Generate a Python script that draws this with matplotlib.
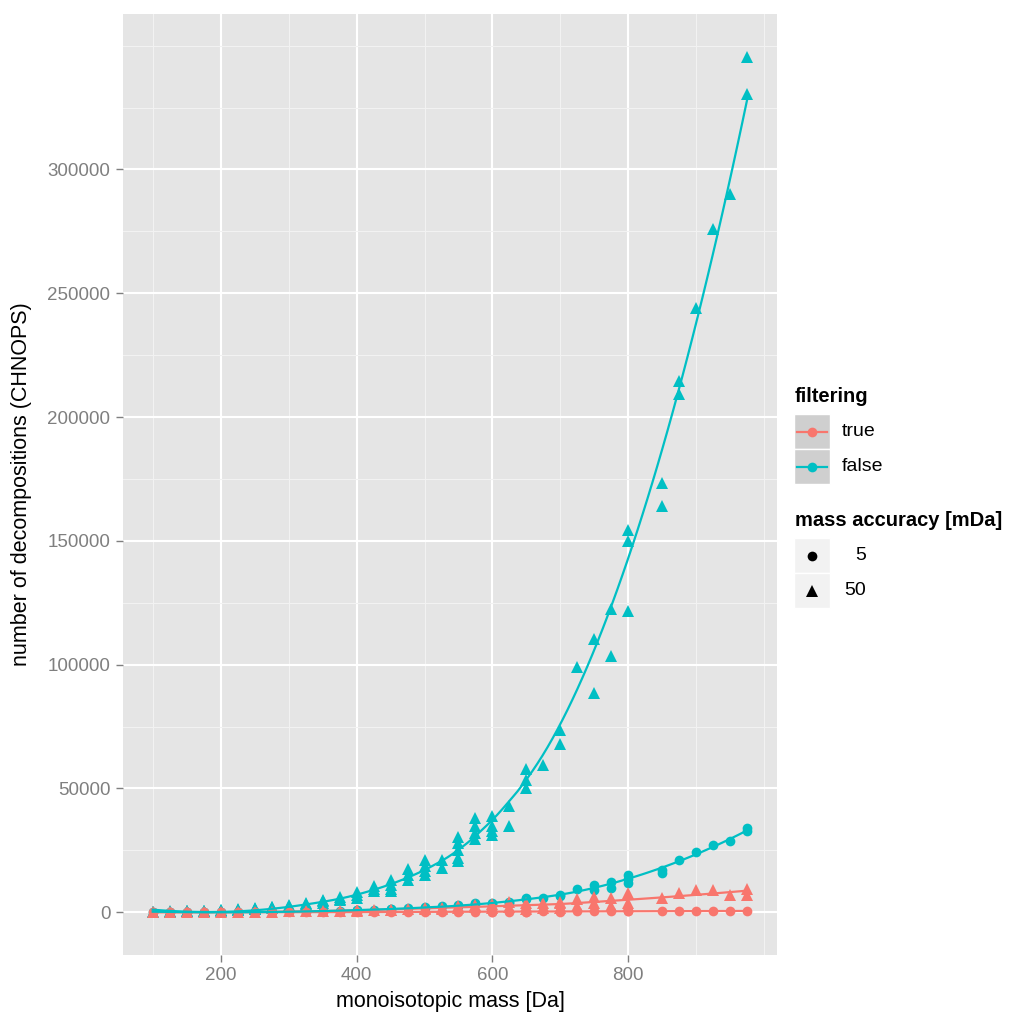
import numpy as np
import matplotlib
matplotlib.use("Agg")
import matplotlib.pyplot as plt
from matplotlib.patches import Rectangle
from matplotlib.lines import Line2D
from matplotlib.ticker import FixedLocator, FuncFormatter

plt.rcParams['font.family'] = ['Liberation Sans', 'DejaVu Sans']

# ---------------- data ----------------
# filtering = false, mass accuracy 50 mDa (cyan triangles)
false50_mass = [100, 100, 100, 125, 125, 125, 150, 150, 150, 175, 175, 175,
                200, 200, 200, 225, 225, 225, 250, 250, 250, 275, 275, 275,
                300, 300, 300, 325, 325, 325, 350, 350, 350, 375, 375, 375,
                400, 400, 400, 425, 425, 425, 450, 450, 450, 450,
                475, 475, 475, 500, 500, 500, 500, 525, 525, 550, 550, 550, 550, 550,
                575, 575, 575, 575, 600, 600, 600, 600, 625, 625, 650, 650, 650, 675,
                700, 700, 725, 750, 750, 775, 775, 800, 800, 800, 850, 850, 875, 875,
                900, 925, 950, 975, 975]
false50_val = [200, 150, 100, 300, 250, 200, 450, 350, 300, 650, 500, 400,
               900, 800, 650, 1300, 1100, 900, 1700, 1500, 1300, 2300, 2000, 1700,
               2900, 2600, 2200, 3800, 3400, 2900, 5000, 4500, 3800, 6300, 5500, 4800,
               8000, 6800, 5600, 10500, 9500, 8500, 13000, 11000, 9500, 8500,
               17500, 15000, 13000, 21000, 18500, 16500, 15000, 21000, 18000,
               30500, 28000, 25000, 22000, 20500,
               38000, 35000, 32000, 29500, 39000, 35000, 33000, 31000, 43000, 35000,
               58000, 53500, 50000, 59500, 73500, 68000, 99000, 110500, 88500,
               122500, 103500, 154500, 150000, 121500, 173500, 164000, 214500, 209500,
               244000, 276000, 290000, 345500, 330500]

# filtering = false, mass accuracy 5 mDa (cyan circles)
false5_mass = [100, 125, 150, 175, 200, 225, 250, 275, 300, 325, 350, 375, 400, 400, 425,
               450, 450, 475, 500, 500, 525, 550, 550, 575, 575, 600, 600, 625, 625,
               650, 650, 675, 700, 700, 725, 750, 750, 775, 775, 800, 800, 800,
               850, 850, 875, 900, 925, 950, 975, 975]
false5_val = [20, 30, 50, 70, 100, 150, 200, 260, 330, 420, 520, 650, 850, 700, 1000,
              1500, 1300, 1800, 2200, 1900, 2400, 3000, 2600, 3600, 3200, 3900, 3500, 4200, 3900,
              5700, 5200, 5700, 7000, 6700, 9400, 11000, 8800, 12300, 9700, 15200, 13600, 11700,
              17000, 16000, 21000, 24300, 27300, 28700, 34200, 32800]

# filtering = true, mass accuracy 50 mDa (red triangles)
true50_mass = [100, 125, 150, 175, 200, 225, 250, 275, 300, 325, 350, 375, 400, 400, 425,
               450, 450, 475, 500, 500, 525, 525, 550, 550, 575, 575, 600, 600, 600,
               625, 625, 650, 650, 650, 675, 675, 700, 700, 700, 725, 725, 750, 750,
               775, 775, 800, 800, 800, 850, 875, 900, 925, 950, 975, 975]
true50_val = [10, 20, 30, 50, 80, 120, 170, 230, 300, 380, 480, 600, 750, 600, 900,
              1100, 900, 1300, 1600, 1300, 1900, 1500, 2400, 1900, 2800, 2200, 3300, 2400, 1800,
              4200, 2000, 3800, 2600, 1200, 3600, 1600, 4200, 3600, 1600, 5400, 2400, 6300, 3600,
              5900, 2400, 7700, 3600, 2600, 5800, 7800, 9000, 9000, 7000, 9200, 6800]

# filtering = true, mass accuracy 5 mDa (red circles)
true5_mass = [100, 125, 150, 175, 200, 225, 250, 275, 300, 325, 350, 375, 400, 425, 450,
              475, 500, 525, 550, 575, 600, 600, 625, 650, 650, 675, 700, 700, 725, 750,
              775, 800, 800, 850, 875, 900, 925, 950, 975]
true5_val = [1, 2, 3, 5, 8, 12, 16, 22, 30, 40, 50, 60, 75, 90, 110,
             130, 150, 170, 190, 210, 240, 200, 260, 290, 250, 300, 320, 280, 330, 350,
             370, 400, 350, 420, 440, 460, 480, 500, 520]

x_major = [200, 400, 600, 800]
x_minor = [100, 300, 500, 700, 900, 1000]
y_major = [0, 50000, 100000, 150000, 200000, 250000, 300000]
y_minor = [25000, 75000, 125000, 175000, 225000, 275000, 325000, 350000]

RED = '#F8766D'
CYAN = '#00BFC4'


def loess(x, y, xg, span=0.75):
    x = np.asarray(x, float)
    y = np.asarray(y, float)
    n = len(x)
    q = int(np.floor(n * span))
    out = []
    for x0 in xg:
        d = np.abs(x - x0)
        h = np.sort(d)[q - 1]
        w = np.clip(1 - (d / h) ** 3, 0, None) ** 3
        X = np.vstack([np.ones(n), x - x0, (x - x0) ** 2]).T
        sw = np.sqrt(w)
        beta = np.linalg.lstsq(X * sw[:, None], y * sw, rcond=None)[0]
        out.append(beta[0])
    return np.array(out)


fig = plt.figure(figsize=(10.1, 10.16), dpi=100)
ax = fig.add_axes([123 / 1010, 1 - 955 / 1016, 654 / 1010, 941 / 1016])
ax.set_facecolor('#E5E5E5')
for s in ax.spines.values():
    s.set_visible(False)

groups = [
    (false50_mass, false50_val, CYAN, '^', 8.8),
    (false5_mass, false5_val, CYAN, 'o', 7),
    (true50_mass, true50_val, RED, '^', 8.8),
    (true5_mass, true5_val, RED, 'o', 7),
]

for m, v, c, mk, ms in groups:
    ax.plot(m, v, linestyle='none', marker=mk, markersize=ms, color=c,
            markeredgewidth=0, zorder=3)

for m, v, c, mk, ms in [groups[3], groups[2], groups[1], groups[0]]:
    xg = np.linspace(min(m), max(m), 120)
    ax.plot(xg, loess(m, v, xg), color=c, lw=1.6, zorder=4)

allm = false50_mass + false5_mass + true50_mass + true5_mass
allv = false50_val + false5_val + true50_val + true5_val
xr = max(allm) - min(allm)
yr = max(allv) - min(allv)
ax.set_xlim(min(allm) - 0.05 * xr, max(allm) + 0.05 * xr)
ax.set_ylim(min(allv) - 0.05 * yr, max(allv) + 0.05 * yr)

ax.xaxis.set_major_locator(FixedLocator(x_major))
ax.xaxis.set_minor_locator(FixedLocator(x_minor))
ax.yaxis.set_major_locator(FixedLocator(y_major))
ax.yaxis.set_minor_locator(FixedLocator(y_minor))
ax.yaxis.set_major_formatter(FuncFormatter(lambda v, p: '%d' % v))
ax.grid(which='major', color='white', lw=1.5, zorder=0)
ax.grid(which='minor', color='#F2F2F2', lw=0.75, zorder=0)
ax.set_axisbelow(True)
ax.tick_params(which='major', length=5, width=1, color='#7F7F7F',
               labelcolor='#7F7F7F', labelsize=13.5, pad=4)
ax.tick_params(which='minor', length=0)

ax.set_xlabel('monoisotopic mass [Da]', fontsize=15.5, labelpad=5)
ax.set_ylabel('number of decompositions (CHNOPS)', fontsize=15.5, labelpad=11)

# ---------------- legend (drawn manually in pixel coords) ----------------
lax = fig.add_axes([0, 0, 1, 1], zorder=5)
lax.set_xlim(0, 1010)
lax.set_ylim(1016, 0)
lax.axis('off')

lax.text(795, 397, 'filtering', fontsize=14.5, fontweight='bold', va='center', ha='left')
for (ytop, c, lab) in [(414, RED, 'true'), (449, CYAN, 'false')]:
    lax.add_patch(Rectangle((794, ytop), 36, 34.5, facecolor='#CFCFCF',
                            edgecolor='white', lw=1))
    yc = ytop + 17.5
    lax.add_line(Line2D([797, 827], [yc, yc], color=c, lw=1.6))
    lax.plot([812], [yc], marker='o', markersize=7, color=c, markeredgewidth=0)
    lax.text(842, yc, lab, fontsize=14, va='center', ha='left')

lax.text(795, 521, 'mass accuracy [mDa]', fontsize=14.5, fontweight='bold',
         va='center', ha='left')
for (ytop, mk, ms, lab) in [(538, 'o', 7, '5'), (573, '^', 8.8, '50')]:
    lax.add_patch(Rectangle((794, ytop), 36, 34.5, facecolor='#F2F2F2',
                            edgecolor='white', lw=1))
    yc = ytop + 17.5
    lax.plot([812], [yc], marker=mk, markersize=ms, color='black', markeredgewidth=0)
    lax.text(866, yc, lab, fontsize=14, va='center', ha='right')

fig.savefig('out.png', dpi=100, facecolor='white')
